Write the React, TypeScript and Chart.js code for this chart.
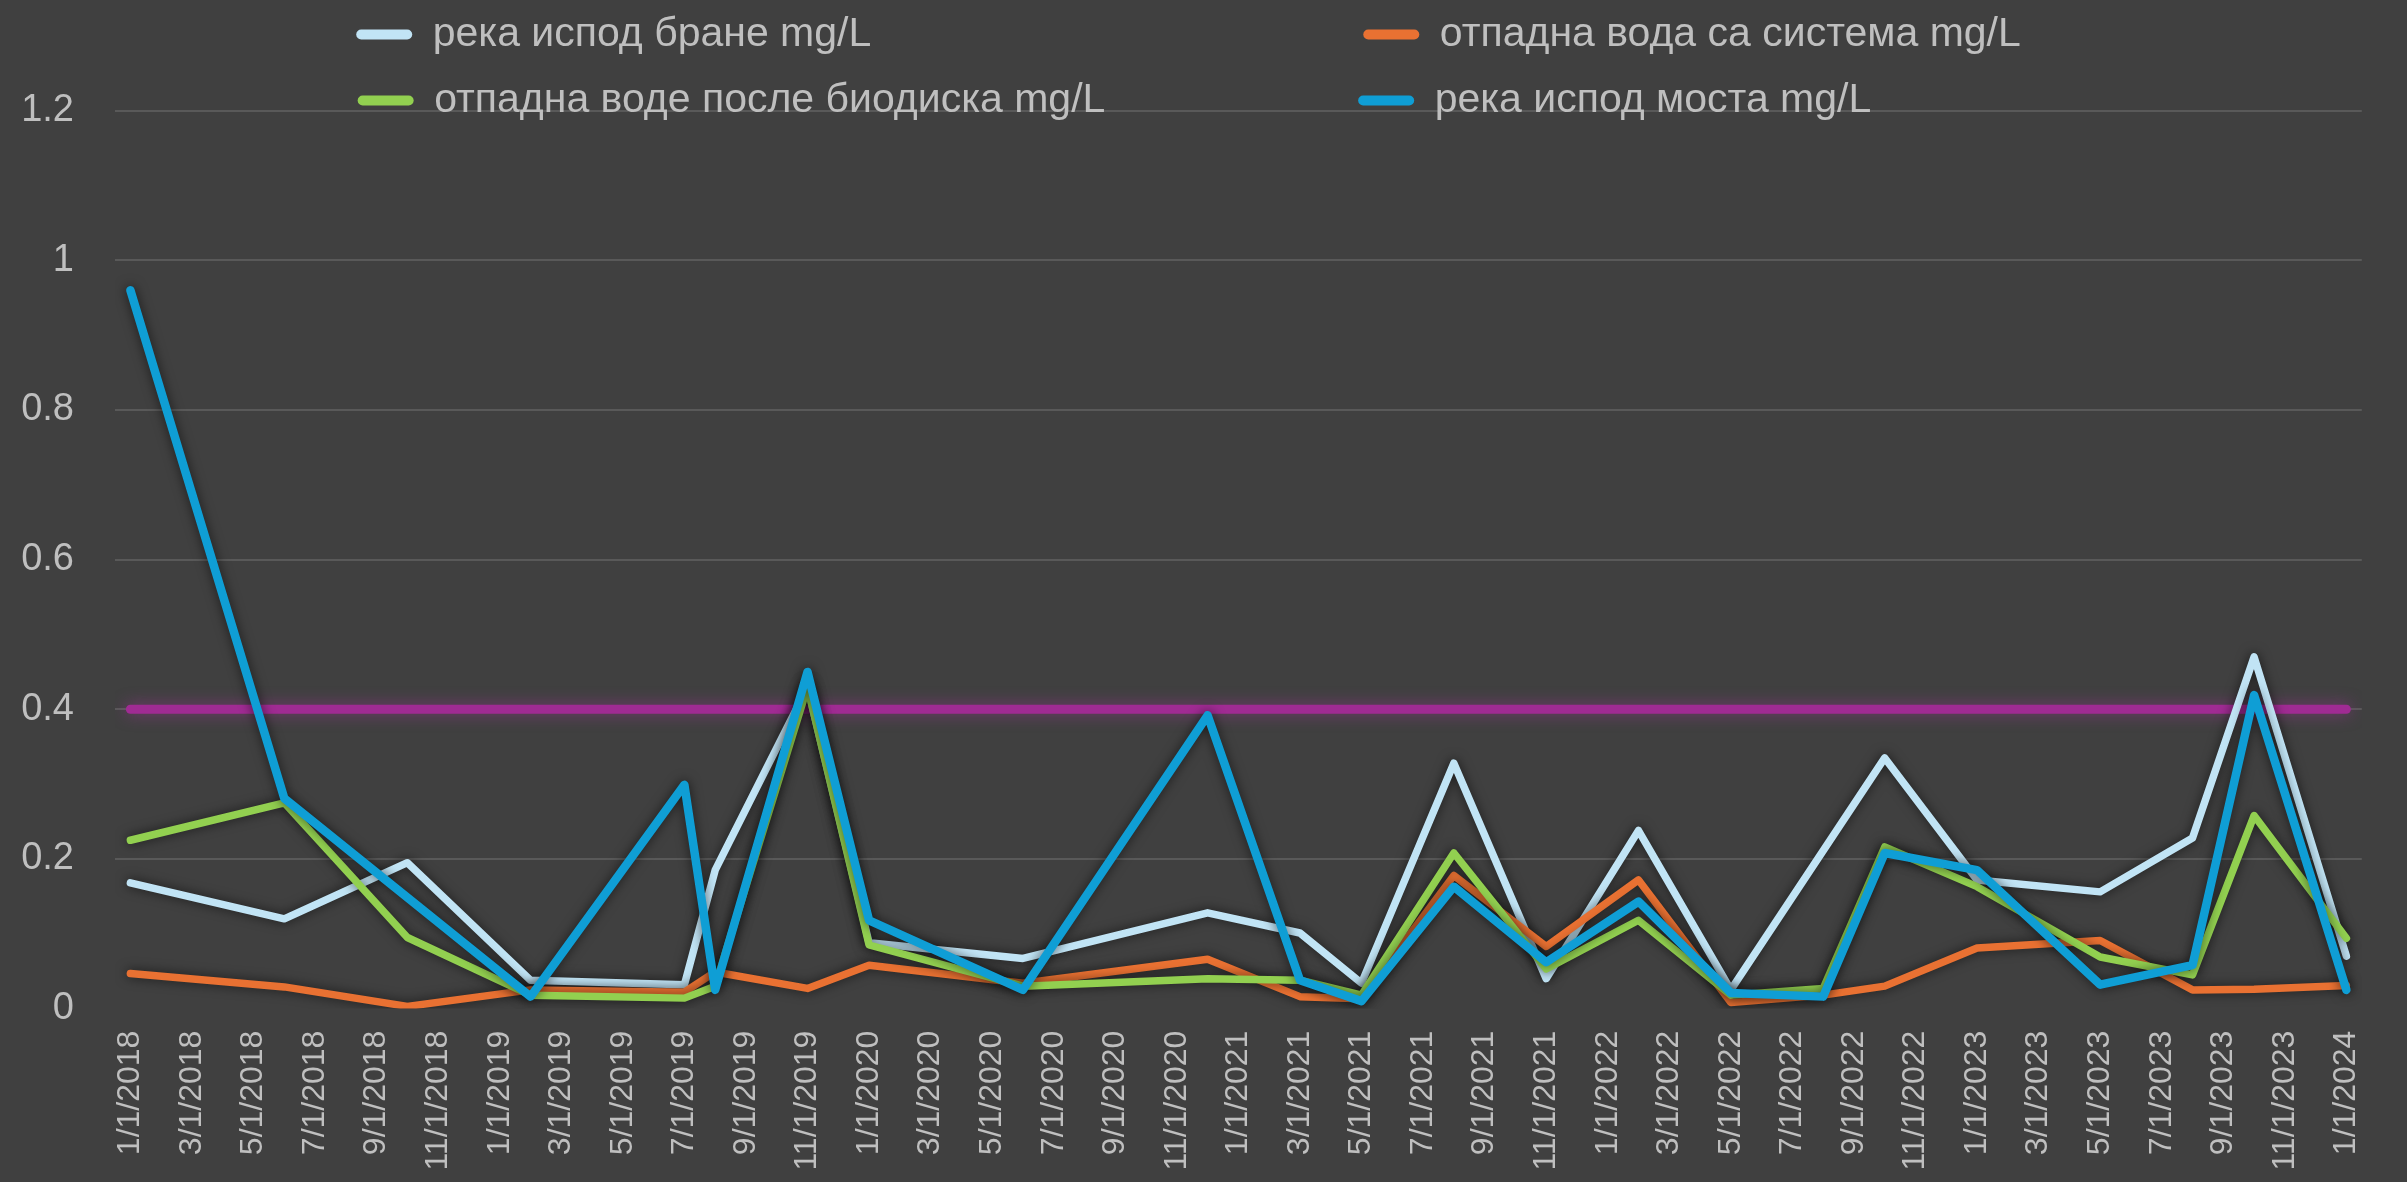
import React, { useEffect, useRef } from "react";
import { Chart, registerables } from "chart.js";

Chart.register(...registerables);

// Months since January 2018 (date axis with monthly base unit)
const months = [0, 5, 9, 13, 18, 19, 22, 24, 29, 35, 38, 40, 43, 46, 49, 52, 55, 57, 60, 64, 67, 69, 72];

const seriesNames = [
  "река испод бране mg/L",
  "отпадна вода са система mg/L",
  "отпадна воде после биодиска mg/L",
  "река испод моста mg/L",
];

const riverBelowDam = [0.168, 0.12, 0.195, 0.038, 0.032, 0.185, 0.43, 0.088, 0.067, 0.128, 0.101, 0.034, 0.328, 0.04, 0.238, 0.025, null, 0.335, 0.172, 0.156, 0.228, 0.47, 0.07];
const wastewaterSystem = [0.047, 0.029, 0.003, 0.025, 0.022, 0.049, 0.027, 0.058, 0.034, 0.066, 0.016, 0.013, 0.178, 0.083, 0.172, 0.008, 0.018, 0.03, 0.081, 0.091, 0.025, 0.026, 0.031];
const wastewaterBiodisk = [0.225, 0.275, 0.095, 0.018, 0.014, 0.03, 0.43, 0.085, 0.03, 0.04, 0.038, 0.018, 0.208, 0.053, 0.118, 0.018, 0.027, 0.216, 0.163, 0.069, 0.045, 0.258, 0.094];
const riverBelowBridge = [0.96, 0.281, null, 0.016, 0.299, 0.025, 0.45, 0.118, 0.025, 0.392, 0.038, 0.01, 0.163, 0.062, 0.143, 0.021, 0.016, 0.208, 0.185, 0.032, 0.058, 0.419, 0.025];

const limitLabel = "граница 0.4 mg/L";
const limitMonths = [0, 72];
const limitValues = [0.4, 0.4];

const tickMonths = [0, 2, 4, 6, 8, 10, 12, 14, 16, 18, 20, 22, 24, 26, 28, 30, 32, 34, 36, 38, 40, 42, 44, 46, 48, 50, 52, 54, 56, 58, 60, 62, 64, 66, 68, 70, 72];
const tickLabels = [
  "1/1/2018", "3/1/2018", "5/1/2018", "7/1/2018", "9/1/2018", "11/1/2018",
  "1/1/2019", "3/1/2019", "5/1/2019", "7/1/2019", "9/1/2019", "11/1/2019",
  "1/1/2020", "3/1/2020", "5/1/2020", "7/1/2020", "9/1/2020", "11/1/2020",
  "1/1/2021", "3/1/2021", "5/1/2021", "7/1/2021", "9/1/2021", "11/1/2021",
  "1/1/2022", "3/1/2022", "5/1/2022", "7/1/2022", "9/1/2022", "11/1/2022",
  "1/1/2023", "3/1/2023", "5/1/2023", "7/1/2023", "9/1/2023", "11/1/2023",
  "1/1/2024",
];
const yTicks = [0, 0.2, 0.4, 0.6, 0.8, 1, 1.2];

// ---- styling ----
const W = 2407;
const H = 1182;
const BG = "#404040";
const GRID = "#595959";
const TEXT = "#bfbfbf";
const FONT = "'Liberation Sans', Arial, sans-serif";
const COLORS = ["#c1e4f5", "#e97132", "#92d050", "#0f9ed5"];
const WIDTHS = [7.5, 7.5, 7.5, 8.5];
const ORDERS = [4, 3, 2, 1];
const LIMIT_COLOR = "#a02b93";

const LEGEND_FONT = 41;
const LEGEND_BOX_W = 56;
const LEGEND_PAD = 25;
const COL_GAP = 1003; // distance between legend column starts
const LEGEND_START = 367;
const LEGEND_RIGHT = W - 30;

export default function App() {
  const ref = useRef<HTMLCanvasElement | null>(null);

  useEffect(() => {
    const canvas = ref.current;
    if (!canvas) return;
    document.body.style.margin = "0";
    document.body.style.background = BG;

    const seriesValues = [riverBelowDam, wastewaterSystem, wastewaterBiodisk, riverBelowBridge];
    const datasets: any[] = seriesValues.map((vals, i) => ({
      label: seriesNames[i],
      data: months.map((m, j) => ({ x: m, y: vals[j] })),
      borderColor: COLORS[i],
      backgroundColor: COLORS[i],
      borderWidth: WIDTHS[i],
      pointRadius: 0,
      pointHoverRadius: 0,
      tension: 0,
      spanGaps: true,
      fill: false,
      borderJoinStyle: "round",
      borderCapStyle: "round",
      order: ORDERS[i],
    }));
    datasets.push({
      label: limitLabel,
      data: limitMonths.map((m, j) => ({ x: m, y: limitValues[j] })),
      borderColor: LIMIT_COLOR,
      backgroundColor: LIMIT_COLOR,
      borderWidth: 9,
      pointRadius: 0,
      pointHoverRadius: 0,
      fill: false,
      borderCapStyle: "round",
      order: 5,
    });

    const bgPlugin = {
      id: "bg",
      beforeDraw(chart: any) {
        const c = chart.ctx;
        c.save();
        c.fillStyle = BG;
        c.fillRect(0, 0, chart.width, chart.height);
        c.restore();
      },
      afterLayout(chart: any) {
        // let the legend's second row overlap the plot area (as in the original)
        const lg = chart.legend;
        if (lg) {
          lg.bottom = lg.top + 180;
          lg.height = 180;
        }
      },
    };

    const glowPlugin = {
      id: "glow",
      beforeDatasetDraw(chart: any, args: any) {
        const c = chart.ctx;
        const ds = chart.data.datasets[args.index];
        c.save();
        if (ds.label === limitLabel) {
          c.shadowColor = "rgba(170,50,160,0.6)";
          c.shadowBlur = 16;
        } else {
          c.shadowColor = "rgba(0,0,0,0.6)";
          c.shadowBlur = 12;
        }
      },
      afterDatasetDraw(chart: any) {
        chart.ctx.restore();
      },
    };

    const generateLabels = (chart: any) => {
      const c = chart.ctx;
      c.save();
      c.font = `${LEGEND_FONT}px ${FONT}`;
      const extra = LEGEND_BOX_W + LEGEND_FONT / 2;
      const natural = seriesNames.map((t) => c.measureText(t).width + extra);
      const w1 = COL_GAP - LEGEND_PAD;
      const total = 0 + LEGEND_PAD + LEGEND_RIGHT - 2 * LEGEND_START;
      const w2 = Math.max(total - 2 * LEGEND_PAD - w1, natural[1], natural[3]);
      const targets = [w1, w2, w1, w2];
      const items = seriesNames.map((name, i) => {
        let t = name;
        let guard = 0;
        while (c.measureText(t).width + extra < targets[i] - 5 && guard < 200) {
          t += " ";
          guard++;
        }
        return {
          text: t,
          fillStyle: COLORS[i],
          strokeStyle: COLORS[i],
          lineWidth: 0,
          borderRadius: 5,
          fontColor: TEXT,
          hidden: false,
          datasetIndex: i,
        };
      });
      c.restore();
      return items;
    };

    const chart = new Chart(canvas, {
      type: "line",
      data: { datasets },
      plugins: [bgPlugin, glowPlugin],
      options: {
        responsive: false,
        animation: false,
        devicePixelRatio: 1,
        events: [],
        layout: { padding: { top: -11, left: 0, right: 30, bottom: 0 } },
        plugins: {
          tooltip: { enabled: false },
          legend: {
            position: "top",
            align: "center",
            maxHeight: 121.7,
            labels: {
              color: TEXT,
              font: { family: FONT, size: LEGEND_FONT },
              boxWidth: LEGEND_BOX_W,
              boxHeight: 10,
              padding: LEGEND_PAD,
              generateLabels,
            },
          },
        },
        scales: {
          x: {
            type: "linear",
            min: -0.5,
            max: 72.5,
            afterBuildTicks: (s: any) => {
              s.ticks = tickMonths.map((v) => ({ value: v }));
            },
            afterFit: (s: any) => {
              s.height = H - 1008.6;
            },
            grid: { display: false, drawTicks: false },
            border: { display: false },
            ticks: {
              autoSkip: false,
              maxRotation: 90,
              minRotation: 90,
              color: TEXT,
              font: { family: FONT, size: 32 },
              padding: 22,
              callback: (_v: any, i: number) => tickLabels[i] ?? "",
            },
          },
          y: {
            min: 0,
            max: 1.2,
            afterBuildTicks: (s: any) => {
              s.ticks = yTicks.map((v) => ({ value: v }));
            },
            afterFit: (s: any) => {
              s.width = 115;
            },
            grid: {
              color: (ctx: any) => (ctx.tick && ctx.tick.value === 0 ? "rgba(0,0,0,0)" : GRID),
              lineWidth: 2,
              drawTicks: false,
            },
            border: { display: false },
            ticks: {
              color: TEXT,
              font: { family: FONT, size: 38 },
              padding: 41,
              callback: (v: any) => String(v),
            },
          },
        },
      } as any,
    });

    return () => chart.destroy();
  }, []);

  return (
    <div style={{ position: "absolute", left: 0, top: 0, width: W, height: H, background: BG }}>
      <canvas ref={ref} width={W} height={H} style={{ width: W, height: H, display: "block" }} />
    </div>
  );
}
